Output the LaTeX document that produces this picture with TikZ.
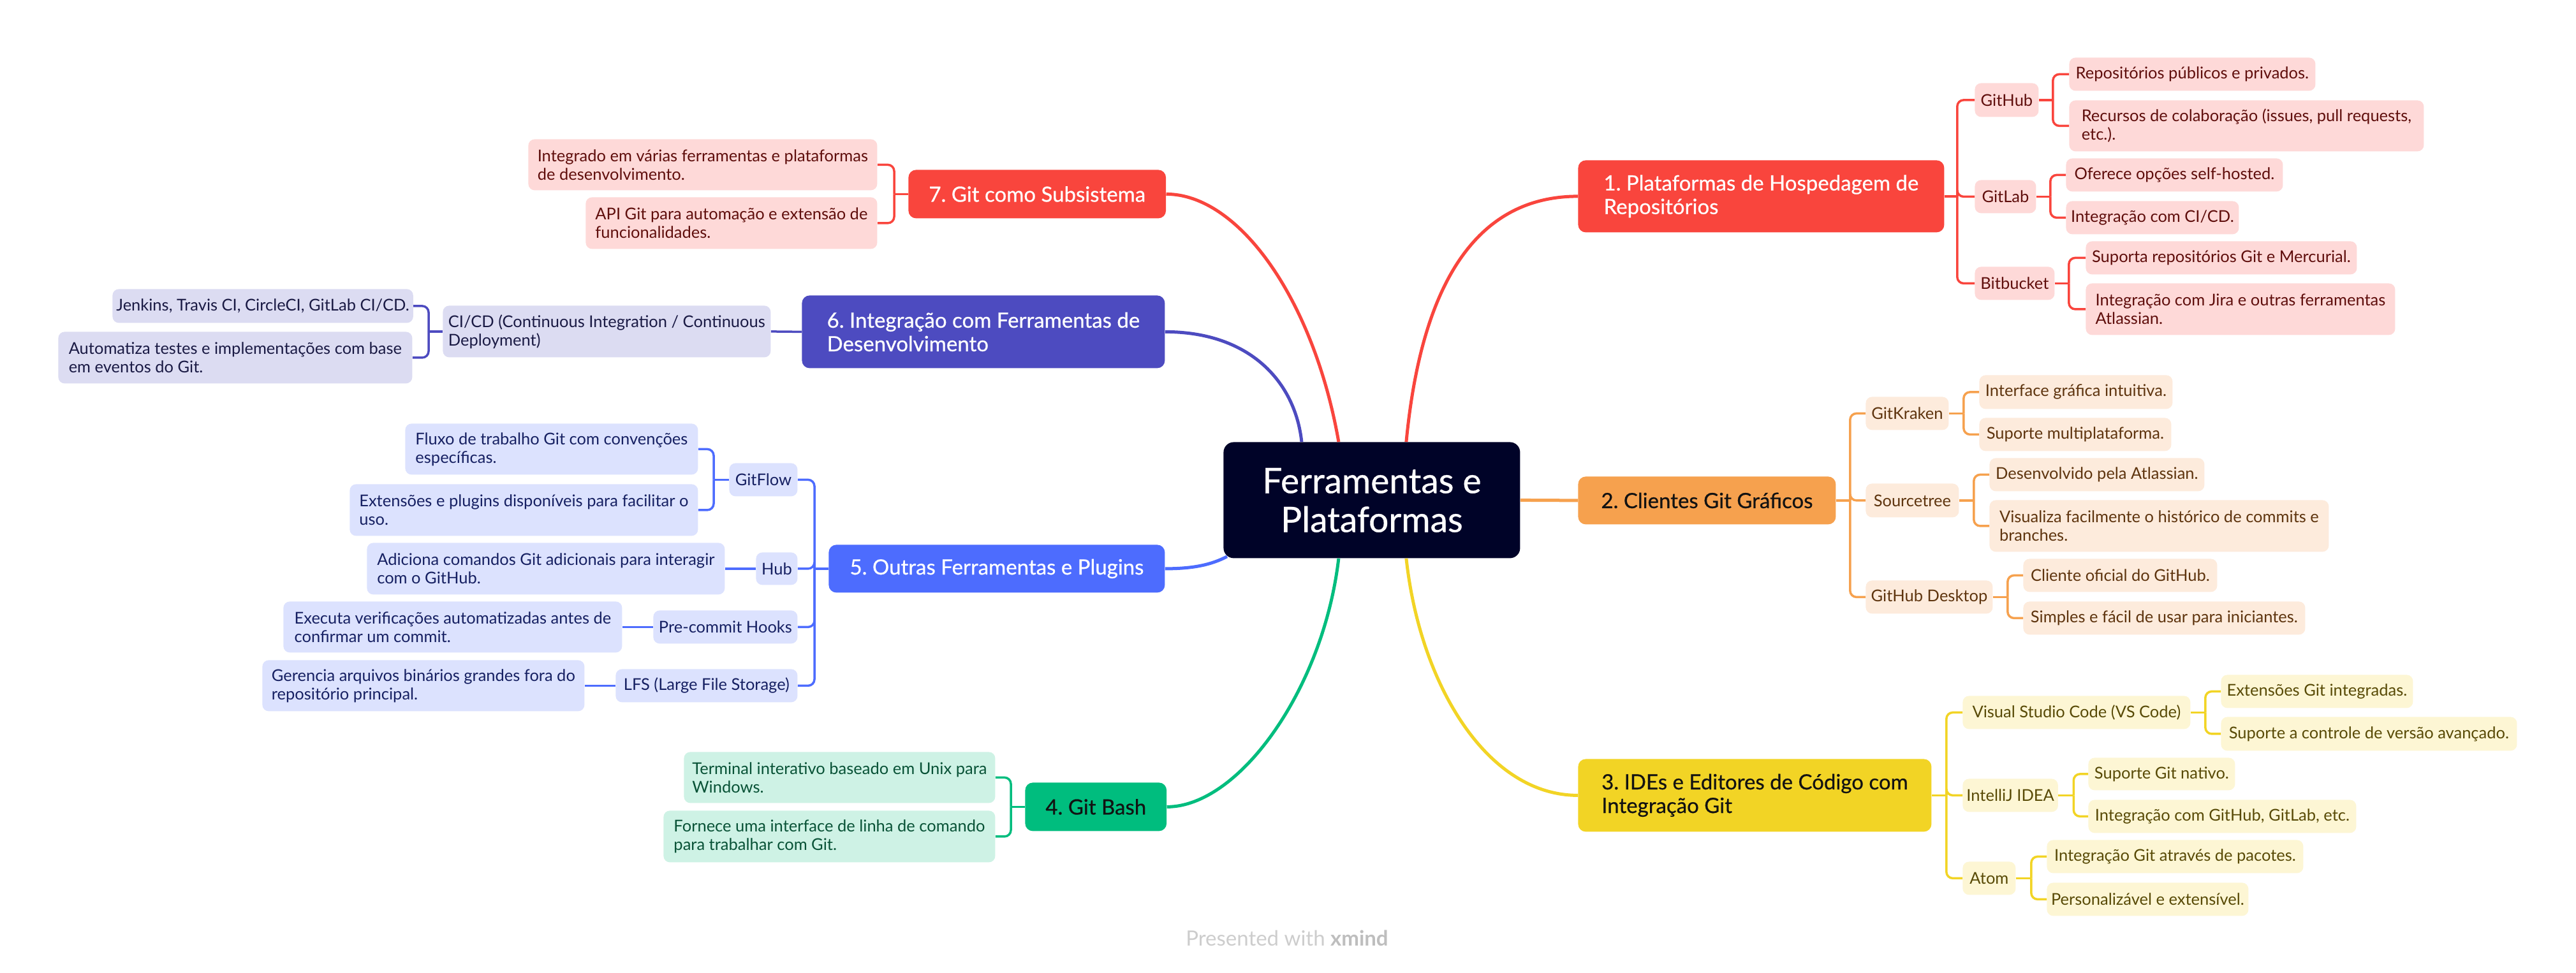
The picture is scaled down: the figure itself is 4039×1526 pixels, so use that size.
\documentclass[tikz,border=0pt]{standalone}
\usepackage{fontspec}
\setmainfont{Lato}
\newfontfamily\medfont[FakeBold=0.6]{Lato}
\AtBeginDocument{\frenchspacing}
\definecolor{cent}{RGB}{0,3,40}
\definecolor{redT}{RGB}{249,69,61}
\definecolor{redL}{RGB}{254,217,216}
\definecolor{redX}{RGB}{95,14,12}
\definecolor{oraT}{RGB}{246,161,78}
\definecolor{oraL}{RGB}{253,235,220}
\definecolor{oraX}{RGB}{94,52,14}
\definecolor{yelT}{RGB}{242,212,37}
\definecolor{yelL}{RGB}{253,246,212}
\definecolor{yelX}{RGB}{88,74,6}
\definecolor{grnT}{RGB}{0,189,126}
\definecolor{grnL}{RGB}{206,242,229}
\definecolor{grnX}{RGB}{8,82,54}
\definecolor{bluT}{RGB}{77,108,254}
\definecolor{bluL}{RGB}{220,226,254}
\definecolor{bluX}{RGB}{22,32,98}
\definecolor{indT}{RGB}{77,75,192}
\definecolor{indL}{RGB}{220,220,242}
\definecolor{indX}{RGB}{26,26,68}
\definecolor{darkT}{RGB}{18,18,18}
\definecolor{wmark}{RGB}{205,205,205}
\definecolor{wmarkB}{RGB}{190,190,190}
% box: style, name, x, y, w, h (px), pad (pt), text
\newcommand\bx[8]{%
  \pgfmathsetmacro\bxw{#5/2}%
  \pgfmathsetmacro\bxh{#6/2}%
  \node[#1,anchor=north west,inner xsep=#7pt,inner ysep=0pt,minimum width=\bxw pt,minimum height=\bxh pt] (#2) at (#3,#4) {#8};}
\tikzset{
  topic/.style={rounded corners=6pt,font=\medfont\fontsize{16.5}{18.5}\selectfont},
  leaf/.style={rounded corners=5pt,font=\fontsize{12.75}{14.5}\selectfont},
  tR/.style={topic,fill=redT,text=white},
  tO/.style={topic,fill=oraT,text=darkT},
  tY/.style={topic,fill=yelT,text=darkT},
  tG/.style={topic,fill=grnT,text=darkT},
  tB/.style={topic,fill=bluT,text=white},
  tI/.style={topic,fill=indT,text=white},
  lR/.style={leaf,fill=redL,text=redX},
  lO/.style={leaf,fill=oraL,text=oraX},
  lY/.style={leaf,fill=yelL,text=yelX},
  lG/.style={leaf,fill=grnL,text=grnX},
  lB/.style={leaf,fill=bluL,text=bluX},
  lI/.style={leaf,fill=indL,text=indX},
  main/.style={line width=2.5pt},
  sub/.style={line width=1.75pt,rounded corners=5pt},
}
\begin{document}
\begin{tikzpicture}[x=0.5pt,y=-0.5pt]
\fill[white] (0,0) rectangle (4039,1526);
\useasboundingbox (0,0) rectangle (4039,1526);

% central
\bx{rounded corners=8pt,fill=cent,text=white,font=\medfont\fontsize{27.5}{30.5}\selectfont,align=center}{c}{1918}{693}{465}{182}{16}{Ferramentas e\\Plataformas}

% ---------- 1 ----------
\bx{tR,align=left}{n1}{2474}{251}{574}{113}{16}{1. Plataformas de Hospedagem de\\Repositórios}
\bx{lR,align=center}{gh}{3096}{130}{100}{53}{3}{GitHub}
\bx{lR,align=center}{gh1}{3244}{90}{386}{52}{3}{Repositórios públicos e privados.}
\bx{lR,align=left}{gh2}{3244}{157}{556}{80}{3}{Recursos de colaboração (issues, pull requests,\\etc.).}
\bx{lR,align=center}{gl}{3096}{282}{96}{52}{3}{GitLab}
\bx{lR,align=center}{gl1}{3239}{248}{340}{52}{3}{Oferece opções self-hosted.}
\bx{lR,align=center}{gl2}{3239}{315}{271}{52}{3}{Integração com CI/CD.}
\bx{lR,align=center}{bb}{3096}{418}{125}{52}{3}{Bitbucket}
\bx{lR,align=center}{bb1}{3270}{378}{425}{52}{3}{Suporta repositórios Git e Mercurial.}
\bx{lR,align=left}{bb2}{3270}{444}{485}{81}{3}{Integração com Jira e outras ferramentas\\Atlassian.}

% ---------- 2 ----------
\bx{tO,align=center}{n2}{2474}{747}{404}{75}{16}{2. Clientes Git Gráficos}
\bx{lO,align=center}{gk}{2925}{622}{130}{52}{3}{GitKraken}
\bx{lO,align=center}{gk1}{3103}{588}{303}{53}{3}{Interface gráfica intuitiva.}
\bx{lO,align=center}{gk2}{3103}{655}{301}{52}{3}{Suporte multiplataforma.}
\bx{lO,align=center}{st}{2925}{758}{146}{53}{3}{Sourcetree}
\bx{lO,align=center}{st1}{3119}{718}{337}{52}{3}{Desenvolvido pela Atlassian.}
\bx{lO,align=left}{st2}{3119}{784}{532}{81}{3}{Visualiza facilmente o histórico de commits e\\branches.}
\bx{lO,align=center}{gd}{2925}{910}{199}{52}{3}{GitHub Desktop}
\bx{lO,align=center}{gd1}{3172}{876}{304}{52}{3}{Cliente oficial do GitHub.}
\bx{lO,align=center}{gd2}{3172}{943}{442}{52}{3}{Simples e fácil de usar para iniciantes.}

% ---------- 3 ----------
\bx{tY,align=left}{n3}{2474}{1190}{554}{114}{16}{3. IDEs e Editores de Código com\\Integração Git}
\bx{lY,align=center}{vs}{3077}{1091}{357}{52}{3}{Visual Studio Code (VS Code)}
\bx{lY,align=center}{vs1}{3482}{1058}{301}{52}{3}{Extensões Git integradas.}
\bx{lY,align=center}{vs2}{3482}{1124}{464}{53}{3}{Suporte a controle de versão avançado.}
\bx{lY,align=center}{ij}{3077}{1221}{147}{52}{3}{IntelliJ IDEA}
\bx{lY,align=center}{ij1}{3274}{1188}{230}{51}{3}{Suporte Git nativo.}
\bx{lY,align=center}{ij2}{3274}{1254}{420}{52}{3}{Integração com GitHub, GitLab, etc.}
\bx{lY,align=center}{at}{3077}{1351}{83}{52}{3}{Atom}
\bx{lY,align=center}{at1}{3209}{1317}{402}{52}{3}{Integração Git através de pacotes.}
\bx{lY,align=center}{at2}{3209}{1384}{316}{52}{3}{Personalizável e extensível.}

% ---------- 4 ----------
\bx{tG,align=center}{n4}{1607}{1227}{220}{76}{16}{4. Git Bash}
\bx{lG,align=left}{gb1}{1072}{1179}{488}{80}{3}{Terminal interativo baseado em Unix para\\Windows.}
\bx{lG,align=left}{gb2}{1040}{1271}{520}{81}{3}{Fornece uma interface de linha de comando\\para trabalhar com Git.}

% ---------- 5 ----------
\bx{tB,align=center}{n5}{1299}{854}{527}{75}{16}{5. Outras Ferramentas e Plugins}
\bx{lB,align=center}{gf}{1143}{726}{107}{52}{3}{GitFlow}
\bx{lB,align=left}{gf1}{635}{664}{459}{80}{3}{Fluxo de trabalho Git com convenções\\específicas.}
\bx{lB,align=left}{gf2}{548}{759}{546}{81}{3}{Extensões e plugins disponíveis para facilitar o\\uso.}
\bx{lB,align=center}{hub}{1185}{866}{65}{51}{3}{Hub}
\bx{lB,align=left}{hub1}{575}{851}{561}{81}{3}{Adiciona comandos Git adicionais para interagir\\com o GitHub.}
\bx{lB,align=center}{pc}{1024}{957}{226}{52}{3}{Pre-commit Hooks}
\bx{lB,align=left}{pc1}{444}{943}{531}{80}{3}{Executa verificações automatizadas antes de\\confirmar um commit.}
\bx{lB,align=center}{lfs}{965}{1049}{285}{52}{3}{LFS (Large File Storage)}
\bx{lB,align=left}{lfs1}{411}{1035}{505}{80}{3}{Gerencia arquivos binários grandes fora do\\repositório principal.}

% ---------- 6 ----------
\bx{tI,align=left}{n6}{1257}{463}{569}{114}{16}{6. Integração com Ferramentas de\\Desenvolvimento}
\bx{lI,align=left}{ci}{694}{479}{514}{81}{3}{CI/CD (Continuous Integration / Continuous\\Deployment)}
\bx{lI,align=center}{ci1}{176}{453}{470}{53}{3}{Jenkins, Travis CI, CircleCI, GitLab CI/CD.}
\bx{lI,align=left}{ci2}{91}{520}{555}{81}{3}{Automatiza testes e implementações com base\\em eventos do Git.}

% ---------- 7 ----------
\bx{tR,align=center}{n7}{1424}{266}{402}{76}{16}{7. Git como Subsistema}
\bx{lR,align=left}{s1}{828}{218}{547}{80}{3}{Integrado em várias ferramentas e plataformas\\de desenvolvimento.}
\bx{lR,align=left}{s2}{918}{309}{457}{81}{3}{API Git para automação e extensão de\\funcionalidades.}

% watermark
\node[font=\fontsize{16.5}{18}\selectfont,text=wmark] (pw) at (2018,1471) {Presented with \textcolor{wmarkB}{\textbf{xmind}}};

% ---------- main branches ----------
\draw[main,redT] ([xshift=27pt]c.north) .. controls +(26,-273) and +(-144,0) .. (n1.west);
\draw[main,oraT] (c.east) -- (n2.west);
\draw[main,yelT] ([xshift=27pt]c.south) .. controls +(21,195) and +(-144,0) .. (n3.west);
\draw[main,grnT] ([xshift=-26pt]c.south) .. controls +(-24,205) and +(113,0) .. (n4.east);
\draw[main,bluT] ([xshift=3pt,yshift=1.5pt]c.south west) .. controls +(-25,13) and +(44,0) .. (n5.east);
\draw[main,indT] ([xshift=-55pt]c.north) .. controls +(-10,-93) and +(134,0) .. (n6.east);
\draw[main,redT] ([xshift=-26pt]c.north) .. controls +(-39,-223) and +(114,0) .. (n7.east);

% ---------- sub connectors right ----------
\draw[sub,redT] (n1.east) -- ++(20,0);
\foreach \k in {gh,gl,bb} \draw[sub,redT] ([xshift=10pt]n1.east) |- (\k.west);
\draw[sub,redT] (gh.east) -- ++(22,0);
\foreach \k in {gh1,gh2} \draw[sub,redT] ([xshift=11pt]gh.east) |- (\k.west);
\draw[sub,redT] (gl.east) -- ++(22,0);
\foreach \k in {gl1,gl2} \draw[sub,redT] ([xshift=11pt]gl.east) |- (\k.west);
\draw[sub,redT] (bb.east) -- ++(22,0);
\foreach \k in {bb1,bb2} \draw[sub,redT] ([xshift=11pt]bb.east) |- (\k.west);

\draw[sub,oraT] (n2.east) -- ++(22,0);
\foreach \k in {gk,st,gd} \draw[sub,oraT] ([xshift=11pt]n2.east) |- (\k.west);
\draw[sub,oraT] (gk.east) -- ++(23,0);
\foreach \k in {gk1,gk2} \draw[sub,oraT] ([xshift=11.5pt]gk.east) |- (\k.west);
\draw[sub,oraT] (st.east) -- ++(23,0);
\foreach \k in {st1,st2} \draw[sub,oraT] ([xshift=11.5pt]st.east) |- (\k.west);
\draw[sub,oraT] (gd.east) -- ++(23,0);
\foreach \k in {gd1,gd2} \draw[sub,oraT] ([xshift=11.5pt]gd.east) |- (\k.west);

\draw[sub,yelT] (n3.east) -- ++(23,0);
\foreach \k in {vs,ij,at} \draw[sub,yelT] ([xshift=11.5pt]n3.east) |- (\k.west);
\draw[sub,yelT] (vs.east) -- ++(23,0);
\foreach \k in {vs1,vs2} \draw[sub,yelT] ([xshift=11.5pt]vs.east) |- (\k.west);
\draw[sub,yelT] (ij.east) -- ++(24,0);
\foreach \k in {ij1,ij2} \draw[sub,yelT] ([xshift=12pt]ij.east) |- (\k.west);
\draw[sub,yelT] (at.east) -- ++(24,0);
\foreach \k in {at1,at2} \draw[sub,yelT] ([xshift=12pt]at.east) |- (\k.west);

% ---------- sub connectors left ----------
\draw[sub,grnT] (n4.west) -- ++(-22,0);
\foreach \k in {gb1,gb2} \draw[sub,grnT] ([xshift=-11pt]n4.west) |- (\k.east);

\draw[sub,bluT] (n5.west) -- ++(-22,0);
\foreach \k in {gf,hub,pc,lfs} \draw[sub,bluT] ([xshift=-11pt]n5.west) |- (\k.east);
\draw[sub,bluT] (gf.west) -- ++(-24,0);
\foreach \k in {gf1,gf2} \draw[sub,bluT] ([xshift=-12pt]gf.west) |- (\k.east);
\draw[sub,bluT] (hub.west) -- (hub1.east);
\draw[sub,bluT] (pc.west) -- (pc1.east);
\draw[sub,bluT] (lfs.west) -- (lfs1.east);

\draw[sub,indT] (n6.west) -- (ci.east);
\draw[sub,indT] (ci.west) -- ++(-22,0);
\foreach \k in {ci1,ci2} \draw[sub,indT] ([xshift=-11pt]ci.west) |- (\k.east);

\draw[sub,redT] (n7.west) -- ++(-22,0);
\foreach \k in {s1,s2} \draw[sub,redT] ([xshift=-11pt]n7.west) |- (\k.east);
\end{tikzpicture}
\end{document}
